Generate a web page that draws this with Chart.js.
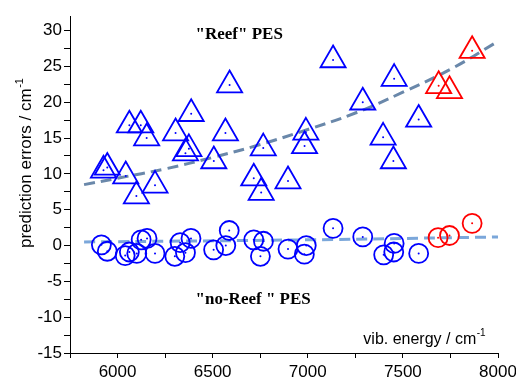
<!DOCTYPE html>
<html>
<head>
<meta charset="utf-8">
<script src="https://cdn.jsdelivr.net/npm/chart.js@4.4.1/dist/chart.umd.min.js"></script>
<style>
  html, body { margin: 0; padding: 0; background: #fff; }
  canvas { display: block; }
</style>
</head>
<body>
<canvas id="chart" width="516" height="379"></canvas>
<script>
"use strict";

// "Reef" PES prediction errors (triangles)
const reefBlueX = [5926, 5946, 6043, 6062, 6099, 6122, 6153, 6197, 6305, 6357, 6375, 6387, 6506, 6567,
  6589, 6716, 6755, 6766, 6896, 6983, 6990, 7133, 7289, 7396, 7450, 7454, 7583];
const reefBlueY = [10.5, 10.9, 9.7, 16.8, 6.9, 16.8, 15.0, 8.4, 15.7, 12.9, 13.5, 18.4, 11.8, 15.7,
  22.4, 9.4, 7.4, 13.6, 9.0, 13.9, 15.8, 25.9, 20.0, 15.1, 11.8, 23.3, 17.6];
const reefRedX = [7688, 7745, 7864];
const reefRedY = [22.3, 21.6, 27.2];

// "no-Reef" PES prediction errors (circles)
const noReefBlueX = [5915, 5946, 6040, 6062, 6101, 6124, 6155, 6197, 6301, 6329, 6357, 6386, 6505, 6569,
  6587, 6716, 6751, 6767, 6896, 6982, 6992, 7133, 7289, 7399, 7452, 7454, 7583];
const noReefBlueY = [0.1, -0.8, -1.4, -0.9, -1.1, 0.8, 1.0, -1.1, -1.5, 0.4, -1.0, 1.0, -0.6, 0.0,
  2.1, 0.8, -1.5, 0.6, -0.5, -1.2, 0.0, 2.4, 1.2, -1.3, -0.9, 0.3, -1.1];
const noReefRedX = [7685, 7745, 7864];
const noReefRedY = [1.1, 1.4, 3.1];

// dashed trend lines
const reefFitX = [5824, 6000, 6250, 6500, 6750, 7000, 7250, 7500, 7750, 8000];
const reefFitY = [8.5, 9.4, 10.7, 12.3, 14.1, 16.2, 18.5, 21.4, 24.6, 28.5];
const noReefFitX = [5824, 7000, 8000];
const noReefFitY = [0.5, 0.8, 1.2];

// labelled ticks
const xTickLabels = [6000, 6500, 7000, 7500, 8000];
const yTickLabels = [-15, -10, -5, 0, 5, 10, 15, 20, 25, 30];

const BLUE = "#0000ff";
const RED = "#ff0000";
const TICK_FONT = { family: "'Liberation Sans', Arial, sans-serif", size: 17 };

function toPoints(xs, ys) {
  return xs.map((x, i) => ({ x, y: ys[i] }));
}

function markers(xs, ys, style, radius, color) {
  return {
    data: toPoints(xs, ys),
    pointStyle: style,
    pointRadius: radius,
    pointBorderColor: color,
    pointBackgroundColor: "rgba(0,0,0,0)",
    pointBorderWidth: 1.8,
    showLine: false,
    clip: false,
    order: 2
  };
}

function centreDots(xs, ys, color) {
  return {
    data: toPoints(xs, ys),
    pointStyle: "circle",
    pointRadius: 1,
    pointBorderWidth: 0,
    pointBackgroundColor: color,
    showLine: false,
    order: 1
  };
}

function fitLine(xs, ys, color) {
  return {
    data: toPoints(xs, ys),
    showLine: true,
    borderColor: color,
    borderWidth: 3,
    borderDash: [11, 6],
    pointRadius: 0,
    tension: 0.4,
    order: 3
  };
}

function drawWithSup(ctx, text, sup, x, y, size) {
  ctx.font = `${size}px 'Liberation Sans', Arial, sans-serif`;
  ctx.fillText(text, x, y);
  const w = ctx.measureText(text).width;
  ctx.font = `${Math.round(size * 0.62)}px 'Liberation Sans', Arial, sans-serif`;
  ctx.fillText(sup, x + w + 0.5, y - size * 0.45);
}

const labelsPlugin = {
  id: "labels",
  afterDraw(chart) {
    const { ctx, scales: { x, y } } = chart;
    ctx.save();
    ctx.fillStyle = "#000";
    ctx.textBaseline = "alphabetic";
    ctx.textAlign = "left";
    ctx.font = "bold 17px 'Liberation Serif', 'Times New Roman', serif";
    ctx.fillText('"Reef" PES', x.getPixelForValue(6410), y.getPixelForValue(28.9));
    ctx.fillText('"no-Reef " PES', x.getPixelForValue(6410), y.getPixelForValue(-8.2));
    drawWithSup(ctx, "vib. energy / cm", "-1", x.getPixelForValue(7292), y.getPixelForValue(-13.7), 16);
    ctx.translate(31, 248);
    ctx.rotate(-Math.PI / 2);
    drawWithSup(ctx, "prediction errors / cm", "-1", 0, 0, 17);
    ctx.restore();
  }
};

new Chart(document.getElementById("chart"), {
  type: "scatter",
  data: {
    datasets: [
      fitLine(reefFitX, reefFitY, "#6a88aa"),
      fitLine(noReefFitX, noReefFitY, "#7ba7da"),
      markers(reefBlueX, reefBlueY, "triangle", 14.5, BLUE),
      markers(reefRedX, reefRedY, "triangle", 14.5, RED),
      markers(noReefBlueX, noReefBlueY, "circle", 9.5, BLUE),
      markers(noReefRedX, noReefRedY, "circle", 9.5, RED),
      centreDots(reefBlueX, reefBlueY, BLUE),
      centreDots(reefRedX, reefRedY, RED),
      centreDots(noReefBlueX, noReefBlueY, BLUE),
      centreDots(noReefRedX, noReefRedY, RED)
    ]
  },
  options: {
    responsive: false,
    animation: false,
    layout: { padding: { top: 9, right: 18, left: 0, bottom: 0 } },
    plugins: { legend: { display: false }, tooltip: { enabled: false } },
    scales: {
      x: {
        type: "linear",
        min: 5750,
        max: 8000,
        border: { display: true, color: "#000", width: 1 },
        grid: { drawOnChartArea: false, drawTicks: true, tickLength: 5, tickColor: "#000" },
        ticks: {
          stepSize: 250,
          autoSkip: false,
          maxRotation: 0,
          color: "#000",
          font: TICK_FONT,
          padding: 4,
          callback: (v) => (xTickLabels.includes(v) ? String(v) : "")
        },
        afterFit(scale) {
          scale.height = 26;
          scale.paddingLeft = 0;
          scale.paddingRight = 0;
        }
      },
      y: {
        type: "linear",
        min: -15,
        max: 32,
        border: { display: true, color: "#000", width: 1 },
        grid: { drawOnChartArea: false, drawTicks: true, tickLength: 6, tickColor: "#000" },
        ticks: {
          stepSize: 2.5,
          includeBounds: false,
          autoSkip: false,
          color: "#000",
          font: TICK_FONT,
          padding: 2,
          callback: (v) => (yTickLabels.includes(v) ? String(v) : "")
        },
        afterFit(scale) {
          scale.width = 70;
          scale.paddingTop = 0;
          scale.paddingBottom = 0;
        }
      }
    }
  },
  plugins: [labelsPlugin]
});
</script>
</body>
</html>
